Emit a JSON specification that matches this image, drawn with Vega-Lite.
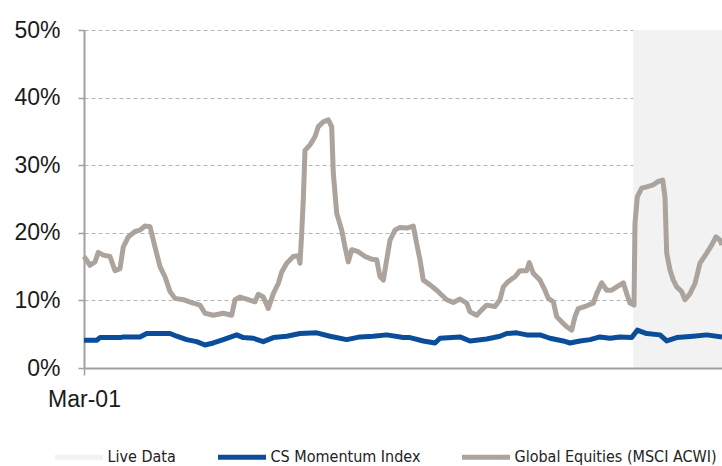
{
  "$schema": "https://vega.github.io/schema/vega-lite/v6.json",
  "width": 638,
  "height": 338,
  "autosize": {"type": "none"},
  "padding": {"left": 84, "top": 30, "right": 0, "bottom": 98},
  "background": "white",
  "config": {
    "view": {"stroke": null},
    "font": "Liberation Sans"
  },
  "datasets": {
    "live": [{"start": 2020.11, "end": 2023.167}],
    "gray": [
      {"yr": 2001.167, "v": 16.5}, {"yr": 2001.374, "v": 15.2}, {"yr": 2001.546, "v": 15.7}, {"yr": 2001.66, "v": 17.1},
      {"yr": 2001.833, "v": 16.7}, {"yr": 2002.063, "v": 16.5}, {"yr": 2002.236, "v": 14.4}, {"yr": 2002.408, "v": 14.7},
      {"yr": 2002.522, "v": 17.9}, {"yr": 2002.695, "v": 19.4}, {"yr": 2002.926, "v": 20.2}, {"yr": 2003.098, "v": 20.4},
      {"yr": 2003.27, "v": 21.0}, {"yr": 2003.443, "v": 20.9}, {"yr": 2003.615, "v": 17.9}, {"yr": 2003.788, "v": 15.0},
      {"yr": 2003.96, "v": 13.5}, {"yr": 2004.133, "v": 11.3}, {"yr": 2004.305, "v": 10.3}, {"yr": 2004.591, "v": 10.1},
      {"yr": 2004.936, "v": 9.6}, {"yr": 2005.167, "v": 9.3}, {"yr": 2005.339, "v": 8.1}, {"yr": 2005.626, "v": 7.8},
      {"yr": 2005.97, "v": 8.1}, {"yr": 2006.26, "v": 7.8}, {"yr": 2006.374, "v": 10.1}, {"yr": 2006.546, "v": 10.5},
      {"yr": 2006.777, "v": 10.2}, {"yr": 2007.063, "v": 9.8}, {"yr": 2007.177, "v": 10.9}, {"yr": 2007.35, "v": 10.5},
      {"yr": 2007.522, "v": 8.8}, {"yr": 2007.695, "v": 11.0}, {"yr": 2007.867, "v": 12.5}, {"yr": 2007.984, "v": 14.2},
      {"yr": 2008.157, "v": 15.5}, {"yr": 2008.384, "v": 16.5}, {"yr": 2008.557, "v": 16.6}, {"yr": 2008.615, "v": 15.5},
      {"yr": 2008.674, "v": 19.9}, {"yr": 2008.729, "v": 24.9}, {"yr": 2008.788, "v": 32.2}, {"yr": 2008.96, "v": 33.0},
      {"yr": 2009.132, "v": 34.2}, {"yr": 2009.246, "v": 35.7}, {"yr": 2009.419, "v": 36.4}, {"yr": 2009.591, "v": 36.7},
      {"yr": 2009.708, "v": 35.7}, {"yr": 2009.764, "v": 28.8}, {"yr": 2009.881, "v": 22.9}, {"yr": 2010.053, "v": 20.4},
      {"yr": 2010.167, "v": 17.9}, {"yr": 2010.281, "v": 15.7}, {"yr": 2010.398, "v": 17.5}, {"yr": 2010.626, "v": 17.2},
      {"yr": 2010.857, "v": 16.5}, {"yr": 2011.088, "v": 16.1}, {"yr": 2011.26, "v": 16.0}, {"yr": 2011.374, "v": 13.5},
      {"yr": 2011.488, "v": 13.0}, {"yr": 2011.605, "v": 16.0}, {"yr": 2011.719, "v": 18.9}, {"yr": 2011.891, "v": 20.4},
      {"yr": 2012.063, "v": 20.8}, {"yr": 2012.294, "v": 20.7}, {"yr": 2012.522, "v": 21.0}, {"yr": 2012.639, "v": 18.4},
      {"yr": 2012.753, "v": 16.0}, {"yr": 2012.867, "v": 13.0}, {"yr": 2013.098, "v": 12.3}, {"yr": 2013.329, "v": 11.5},
      {"yr": 2013.501, "v": 10.8}, {"yr": 2013.674, "v": 10.1}, {"yr": 2013.901, "v": 9.7}, {"yr": 2014.132, "v": 10.2},
      {"yr": 2014.364, "v": 9.6}, {"yr": 2014.477, "v": 8.3}, {"yr": 2014.708, "v": 7.8}, {"yr": 2014.881, "v": 8.6},
      {"yr": 2015.053, "v": 9.3}, {"yr": 2015.339, "v": 9.1}, {"yr": 2015.512, "v": 10.1}, {"yr": 2015.626, "v": 12.0},
      {"yr": 2015.798, "v": 12.8}, {"yr": 2016.029, "v": 13.5}, {"yr": 2016.201, "v": 14.4}, {"yr": 2016.432, "v": 14.4},
      {"yr": 2016.522, "v": 15.6}, {"yr": 2016.66, "v": 14.0}, {"yr": 2016.891, "v": 13.0}, {"yr": 2017.063, "v": 11.5},
      {"yr": 2017.177, "v": 10.3}, {"yr": 2017.35, "v": 9.8}, {"yr": 2017.467, "v": 7.6}, {"yr": 2017.694, "v": 6.6},
      {"yr": 2017.812, "v": 6.1}, {"yr": 2017.984, "v": 5.6}, {"yr": 2018.098, "v": 7.6}, {"yr": 2018.212, "v": 8.8},
      {"yr": 2018.501, "v": 9.2}, {"yr": 2018.729, "v": 9.6}, {"yr": 2018.846, "v": 11.0}, {"yr": 2019.019, "v": 12.6},
      {"yr": 2019.191, "v": 11.5}, {"yr": 2019.363, "v": 11.5}, {"yr": 2019.536, "v": 12.0}, {"yr": 2019.764, "v": 12.6},
      {"yr": 2019.881, "v": 11.0}, {"yr": 2019.994, "v": 9.6}, {"yr": 2020.132, "v": 9.3}, {"yr": 2020.167, "v": 21.4},
      {"yr": 2020.246, "v": 25.3}, {"yr": 2020.398, "v": 26.6}, {"yr": 2020.57, "v": 26.8}, {"yr": 2020.798, "v": 27.1},
      {"yr": 2020.97, "v": 27.6}, {"yr": 2021.122, "v": 27.8}, {"yr": 2021.201, "v": 25.3}, {"yr": 2021.26, "v": 17.0},
      {"yr": 2021.374, "v": 14.5}, {"yr": 2021.488, "v": 13.0}, {"yr": 2021.605, "v": 12.0}, {"yr": 2021.777, "v": 11.3},
      {"yr": 2021.891, "v": 10.1}, {"yr": 2022.063, "v": 11.0}, {"yr": 2022.236, "v": 12.5}, {"yr": 2022.408, "v": 15.5},
      {"yr": 2022.639, "v": 17.0}, {"yr": 2022.812, "v": 18.2}, {"yr": 2022.96, "v": 19.4}, {"yr": 2023.098, "v": 18.9},
      {"yr": 2023.167, "v": 18.2}
    ],
    "blue": [
      {"yr": 2001.167, "v": 4.1}, {"yr": 2001.604, "v": 4.1}, {"yr": 2001.719, "v": 4.5}, {"yr": 2002.408, "v": 4.5},
      {"yr": 2002.522, "v": 4.6}, {"yr": 2003.098, "v": 4.6}, {"yr": 2003.329, "v": 5.1}, {"yr": 2004.133, "v": 5.1},
      {"yr": 2004.364, "v": 4.7}, {"yr": 2004.708, "v": 4.2}, {"yr": 2005.053, "v": 3.9}, {"yr": 2005.339, "v": 3.4},
      {"yr": 2005.626, "v": 3.7}, {"yr": 2005.97, "v": 4.2}, {"yr": 2006.432, "v": 4.9}, {"yr": 2006.66, "v": 4.5},
      {"yr": 2007.005, "v": 4.4}, {"yr": 2007.35, "v": 3.9}, {"yr": 2007.695, "v": 4.5}, {"yr": 2008.157, "v": 4.7},
      {"yr": 2008.615, "v": 5.1}, {"yr": 2009.191, "v": 5.2}, {"yr": 2009.65, "v": 4.7}, {"yr": 2010.225, "v": 4.2},
      {"yr": 2010.684, "v": 4.6}, {"yr": 2011.143, "v": 4.7}, {"yr": 2011.605, "v": 4.9}, {"yr": 2012.177, "v": 4.5},
      {"yr": 2012.408, "v": 4.5}, {"yr": 2012.867, "v": 4.0}, {"yr": 2013.27, "v": 3.7}, {"yr": 2013.443, "v": 4.4},
      {"yr": 2014.132, "v": 4.6}, {"yr": 2014.477, "v": 4.0}, {"yr": 2015.053, "v": 4.3}, {"yr": 2015.512, "v": 4.7},
      {"yr": 2015.743, "v": 5.1}, {"yr": 2016.088, "v": 5.2}, {"yr": 2016.432, "v": 4.9}, {"yr": 2016.891, "v": 4.9},
      {"yr": 2017.236, "v": 4.4}, {"yr": 2017.694, "v": 4.0}, {"yr": 2017.925, "v": 3.7}, {"yr": 2018.27, "v": 4.0},
      {"yr": 2018.615, "v": 4.2}, {"yr": 2018.96, "v": 4.6}, {"yr": 2019.305, "v": 4.4}, {"yr": 2019.65, "v": 4.6},
      {"yr": 2020.053, "v": 4.5}, {"yr": 2020.246, "v": 5.6}, {"yr": 2020.57, "v": 5.1}, {"yr": 2021.029, "v": 4.9},
      {"yr": 2021.26, "v": 4.0}, {"yr": 2021.605, "v": 4.5}, {"yr": 2022.177, "v": 4.7}, {"yr": 2022.639, "v": 4.9},
      {"yr": 2023.167, "v": 4.6}
    ]
  },
  "encoding": {
    "x": {
      "field": "yr", "type": "quantitative",
      "scale": {"domain": [2001.167, 2023.167], "nice": false, "zero": false},
      "axis": {
        "values": [2001.167], "labelExpr": "'Mar-01'", "title": null, "grid": false,
        "labelFlush": false, "labelFont": "Liberation Sans", "labelFontSize": 23, "labelColor": "#1a1a1a",
        "tickSize": 7, "tickColor": "#a0a0a0", "tickWidth": 1.5, "labelPadding": 13,
        "domainColor": "#a0a0a0", "domainWidth": 2, "zindex": 1
      }
    }
  },
  "layer": [
    {
      "data": {"name": "live"},
      "mark": {"type": "rect", "color": "#f2f2f2"},
      "encoding": {
        "x": {"field": "start", "type": "quantitative"},
        "x2": {"field": "end"},
        "color": {
          "datum": "Live Data",
          "scale": {
            "domain": ["Live Data", "CS Momentum Index", "Global Equities (MSCI ACWI)"],
            "range": ["#f2f2f2", "#0a4d9a", "#aba39c"]
          },
          "legend": {
            "orient": "none", "legendX": -31.5, "legendY": 400.5, "direction": "horizontal", "title": null,
            "symbolType": "stroke", "symbolSize": 2304, "symbolStrokeWidth": 5,
            "labelFont": "DejaVu Sans Condensed, Liberation Sans", "labelFontSize": 16, "labelColor": "#222222",
            "labelOffset": 2, "columnPadding": 31, "padding": 0, "labelLimit": 400,
            "encode": {
              "symbols": {
                "update": {
                  "stroke": {"scale": "color", "field": "value"},
                  "fill": {"value": "transparent"},
                  "size": {"value": 2304},
                  "strokeWidth": {"value": 5},
                  "opacity": {"value": 1}
                }
              }
            }
          }
        }
      }
    },
    {
      "data": {"name": "gray"},
      "mark": {"type": "line", "strokeWidth": 5, "strokeJoin": "round", "strokeCap": "butt"},
      "encoding": {
        "y": {
          "field": "v", "type": "quantitative",
          "scale": {"domain": [0, 50], "nice": false},
          "axis": {
            "values": [0, 10, 20, 30, 40, 50], "labelExpr": "datum.value + '%'", "title": null,
            "labelFont": "Liberation Sans", "labelFontSize": 23, "labelColor": "#1a1a1a",
            "tickSize": 6, "tickColor": "#a0a0a0", "tickWidth": 1.5, "labelPadding": 18,
            "domainColor": "#a0a0a0", "domainWidth": 2,
            "grid": true, "gridColor": "#b5b5b5", "gridDash": [4, 3], "gridWidth": 1
          }
        },
        "color": {"datum": "Global Equities (MSCI ACWI)"}
      }
    },
    {
      "data": {"name": "blue"},
      "mark": {"type": "line", "strokeWidth": 5, "strokeJoin": "round", "strokeCap": "butt"},
      "encoding": {
        "y": {"field": "v", "type": "quantitative"},
        "color": {"datum": "CS Momentum Index"}
      }
    }
  ]
}
